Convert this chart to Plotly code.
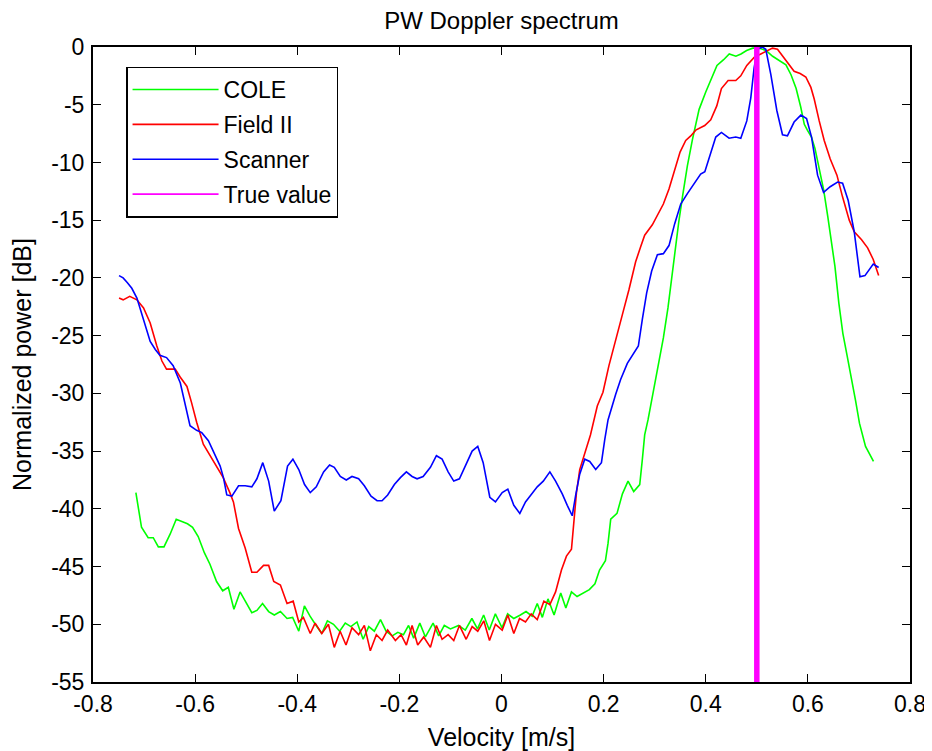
import plotly.graph_objects as go

# ---------------- data ----------------
cole_v = [-0.716, -0.705, -0.692, -0.682, -0.672, -0.661, -0.649, -0.637, -0.626, -0.615,
          -0.605, -0.594, -0.582, -0.571, -0.558, -0.546, -0.535, -0.524, -0.512, -0.501,
          -0.489, -0.479, -0.468, -0.456, -0.445, -0.433, -0.420, -0.409, -0.397, -0.386,
          -0.375, -0.363, -0.352, -0.341, -0.329, -0.317, -0.306, -0.295, -0.283, -0.271,
          -0.260, -0.249, -0.237, -0.226, -0.214, -0.203, -0.192, -0.182, -0.172, -0.160,
          -0.149, -0.134, -0.123, -0.112, -0.100, -0.084, -0.071, -0.058, -0.047, -0.035,
          -0.024, -0.012, 0.001, 0.012, 0.024, 0.037, 0.048, 0.060, 0.070, 0.080,
          0.091, 0.103, 0.116, 0.126, 0.137, 0.148, 0.160, 0.172, 0.183, 0.192,
          0.2035, 0.2086, 0.2139, 0.2262, 0.2368, 0.2478, 0.2589, 0.2707, 0.2759, 0.2804,
          0.2869, 0.297, 0.307, 0.317, 0.326, 0.333, 0.340, 0.347, 0.355, 0.364,
          0.374, 0.387, 0.400, 0.410, 0.422, 0.435, 0.446, 0.459, 0.469, 0.480,
          0.492, 0.505, 0.518, 0.531, 0.544, 0.557, 0.567, 0.577, 0.586, 0.593,
          0.599, 0.607, 0.614, 0.622, 0.631, 0.639, 0.646, 0.653, 0.6607, 0.6685,
          0.6771, 0.6849, 0.6933, 0.7011, 0.7129, 0.7285]
cole_db = [-38.6, -41.6, -42.5, -42.5, -43.3, -43.3, -42.2, -40.9, -41.1, -41.3,
           -41.6, -42.4, -43.8, -44.8, -46.3, -47.1, -46.8, -48.7, -47.2, -48.1,
           -49.0, -48.8, -48.2, -48.9, -49.2, -48.9, -49.5, -49.4, -50.6, -48.4,
           -49.3, -50.1, -50.8, -49.7, -50.0, -50.6, -49.9, -50.2, -49.8, -51.3,
           -50.2, -50.6, -49.6, -50.6, -51.0, -50.7, -50.9, -50.1, -51.2, -49.9,
           -51.1, -49.9, -51.0, -50.1, -50.4, -50.1, -50.5, -49.5, -50.4, -49.2,
           -50.5, -49.1, -50.3, -49.1, -49.5, -49.2, -48.9, -49.3, -48.2, -49.4,
           -47.8, -49.2, -47.3, -48.6, -47.2, -47.6, -47.3, -47.0, -46.5, -45.3,
           -44.5, -43.0, -40.9, -40.4, -38.7, -37.6, -38.5, -37.9, -35.7, -33.6,
           -32.3, -30.0, -27.6, -25.2, -22.6, -20.0, -17.6, -15.2, -12.8, -10.3,
           -8.0, -5.4, -3.9, -2.8, -1.6, -1.1, -0.6, -0.8, -0.6, -0.3,
           -0.1, -0.1, -0.3, -0.8, -1.15, -1.55, -2.4, -3.6, -5.2, -6.7,
           -7.2, -7.8, -8.8, -10.5, -12.4, -14.7, -17.0, -19.0, -22.2, -24.8,
           -26.8, -28.5, -30.6, -32.6, -34.6, -35.9]

field_v = [-0.749, -0.741, -0.728, -0.714, -0.701, -0.688, -0.675, -0.665, -0.656, -0.639,
           -0.629, -0.616, -0.607, -0.597, -0.584, -0.571, -0.558, -0.545, -0.532, -0.525,
           -0.515, -0.502, -0.489, -0.479, -0.466, -0.456, -0.446, -0.433, -0.420, -0.408,
           -0.397, -0.388, -0.3745, -0.365, -0.352, -0.339, -0.3275, -0.316, -0.3045, -0.2928,
           -0.2798, -0.2686, -0.2569, -0.2451, -0.2339, -0.2229, -0.2078, -0.1967, -0.1863, -0.1751,
           -0.1641, -0.1523, -0.1392, -0.1275, -0.1163, -0.1045, -0.0935, -0.0824, -0.0692, -0.0575,
           -0.0465, -0.0347, -0.0235, -0.0118, 0.0014, 0.0124, 0.0241, 0.0353, 0.047, 0.0582,
           0.070, 0.083, 0.0947, 0.1059, 0.1174, 0.1272, 0.137, 0.1415, 0.1468, 0.1532,
           0.163, 0.1742, 0.1876, 0.1987, 0.2104, 0.2235, 0.2366, 0.2497, 0.2627, 0.2725,
           0.2804, 0.2954, 0.3053, 0.317, 0.328, 0.3379, 0.3497, 0.3608, 0.3706, 0.3804,
           0.3888, 0.398, 0.4098, 0.4216, 0.4307, 0.4438, 0.4588, 0.4686, 0.4804, 0.4947,
           0.5078, 0.5209, 0.5307, 0.5405, 0.5503, 0.560, 0.573, 0.5849, 0.596, 0.6059,
           0.6124, 0.6222, 0.632, 0.6438, 0.6569, 0.668, 0.681, 0.6908, 0.7052, 0.717,
           0.728, 0.7386]
field_db = [-21.75, -21.9, -21.6, -21.9, -22.6, -23.9, -25.9, -27.2, -27.9, -27.9,
            -28.6, -29.4, -30.8, -32.5, -34.4, -35.4, -36.3, -37.3, -38.6, -39.4,
            -41.7, -43.4, -45.5, -45.5, -44.9, -44.9, -46.3, -46.6, -48.2, -48.0,
            -49.8, -49.4, -50.8, -49.9, -50.8, -50.0, -52.0, -50.6, -51.8, -50.3,
            -50.9, -50.1, -52.3, -50.9, -51.4, -50.5, -51.4, -50.9, -51.8, -50.1,
            -51.8, -51.1, -52.0, -50.1, -51.3, -50.9, -51.4, -50.1, -51.3, -50.2,
            -50.6, -49.7, -51.4, -50.0, -50.5, -49.2, -50.8, -49.5, -49.8, -49.1,
            -49.6, -48.0, -48.3, -47.2, -45.3, -44.1, -43.5, -40.9, -38.6, -36.6,
            -35.2, -33.6, -31.1, -29.9, -27.6, -25.3, -23.2, -21.0, -18.6, -17.3,
            -16.3, -15.4, -14.6, -13.6, -12.3, -10.8, -9.1, -8.1, -7.7, -7.2,
            -7.0, -6.8, -6.3, -5.1, -3.6, -2.9, -2.9, -2.5, -1.6, -0.9,
            -0.6, -0.3, -0.1, -0.2, -0.8, -1.35, -2.1, -2.3, -2.6, -3.5,
            -4.5, -6.4, -8.1, -9.7, -11.1, -13.0, -15.0, -16.0, -16.7, -17.4,
            -18.4, -19.8]

scan_v = [-0.749, -0.741, -0.733, -0.724, -0.714, -0.701, -0.688, -0.678, -0.669, -0.656,
          -0.643, -0.629, -0.620, -0.610, -0.597, -0.587, -0.574, -0.561, -0.551, -0.5445,
          -0.538, -0.528, -0.515, -0.502, -0.489, -0.479, -0.4675, -0.456, -0.445, -0.432,
          -0.419, -0.4085, -0.397, -0.3857, -0.3745, -0.3627, -0.3484, -0.3367, -0.3275, -0.3157,
          -0.304, -0.2928, -0.2798, -0.2686, -0.2555, -0.2437, -0.2339, -0.2229, -0.2098, -0.198,
          -0.1863, -0.1751, -0.1653, -0.1535, -0.1392, -0.1275, -0.1163, -0.1045, -0.0935, -0.0824,
          -0.0706, -0.0575, -0.0465, -0.0359, -0.0229, -0.0118, 0.0014, 0.0124, 0.0241, 0.0359,
          0.047, 0.0582, 0.070, 0.0818, 0.0947, 0.1059, 0.1190, 0.1288, 0.1385, 0.1454,
          0.1532, 0.163, 0.1728, 0.1845, 0.1957, 0.2022, 0.2086, 0.2235, 0.2333, 0.2464,
          0.2582, 0.268, 0.2758, 0.2843, 0.2941, 0.3053, 0.317, 0.328, 0.3392, 0.351,
          0.364, 0.377, 0.390, 0.3982, 0.4085, 0.4196, 0.4307, 0.4457, 0.4588, 0.4686,
          0.4804, 0.4882, 0.4947, 0.5013, 0.511, 0.5176, 0.5275, 0.5392, 0.5503, 0.560,
          0.573, 0.5863, 0.5974, 0.6072, 0.619, 0.6307, 0.6437, 0.6582, 0.668, 0.679,
          0.6908, 0.702, 0.7118, 0.728, 0.7386]
scan_db = [-19.8, -20.0, -20.4, -20.9, -21.75, -23.6, -25.5, -26.2, -26.7, -26.9,
           -27.6, -29.1, -30.9, -32.8, -33.2, -33.4, -34.1, -35.3, -36.3, -37.3,
           -38.8, -38.9, -38.0, -38.0, -38.1, -37.4, -36.0, -37.6, -40.2, -39.3,
           -36.3, -35.7, -36.6, -37.9, -38.6, -38.1, -36.8, -36.2, -36.4, -37.2,
           -37.5, -37.2, -37.4, -38.0, -38.9, -39.3, -39.3, -38.8, -37.9, -37.3,
           -36.8, -37.2, -37.4, -37.2, -36.4, -35.4, -35.7, -36.8, -37.6, -37.4,
           -36.3, -35.0, -34.6, -36.0, -39.0, -39.4, -38.6, -38.3, -39.7, -40.4,
           -39.4, -38.8, -38.1, -37.6, -36.8, -37.6, -38.7, -39.7, -40.6, -38.8,
           -37.0, -35.7, -35.9, -36.6, -36.0, -34.0, -32.3, -30.1, -28.8, -27.4,
           -26.6, -25.9, -23.6, -21.3, -19.4, -18.0, -17.9, -17.2, -15.3, -13.6,
           -12.7, -11.8, -11.0, -10.8, -9.4, -7.8, -7.4, -7.9, -7.8, -7.9,
           -6.4, -4.4, -1.8, -0.2, 0.0, -0.2, -2.4, -5.5, -7.6, -7.7,
           -6.5, -5.9, -6.2, -7.8, -11.1, -12.6, -12.1, -11.7, -11.8, -13.3,
           -16.0, -19.9, -19.8, -18.8, -19.1]

true_value = 0.5

x_tickvals = [-0.8, -0.6, -0.4, -0.2, 0.0, 0.2, 0.4, 0.6, 0.8]
x_ticktext = ["-0.8", "-0.6", "-0.4", "-0.2", "0", "0.2", "0.4", "0.6", "0.8"]
y_tickvals = [0, -5, -10, -15, -20, -25, -30, -35, -40, -45, -50, -55]
y_ticktext = ["0", "-5", "-10", "-15", "-20", "-25", "-30", "-35", "-40", "-45", "-50", "-55"]

FONT = "Liberation Sans, Arial, Helvetica, sans-serif"
TICK_SIZE = 23
LABEL_SIZE = 25

fig = go.Figure()
fig.add_trace(go.Scatter(x=cole_v, y=cole_db, mode="lines", name="COLE",
                         line=dict(color="#00FF00", width=1.6), legendgroup="a"))
fig.add_trace(go.Scatter(x=field_v, y=field_db, mode="lines", name="Field II",
                         line=dict(color="#FF0000", width=1.6), legendgroup="b"))
fig.add_trace(go.Scatter(x=scan_v, y=scan_db, mode="lines", name="Scanner",
                         line=dict(color="#0000FF", width=1.6), legendgroup="c"))
fig.add_trace(go.Scatter(x=[true_value, true_value], y=[0, -55], mode="lines",
                         name="True value", showlegend=False,
                         line=dict(color="#FF00FF", width=5.5), legendgroup="d"))
fig.add_trace(go.Scatter(x=[None], y=[None], mode="lines", name="True value",
                         line=dict(color="#FF00FF", width=1.8), legendgroup="d"))

axis_common = dict(showline=True, linecolor="black", linewidth=2, mirror="allticks",
                   ticks="inside", ticklen=8, tickwidth=1.3, tickcolor="black",
                   showgrid=False, zeroline=False, ticklabeloverflow="allow",
                   tickfont=dict(family=FONT, size=TICK_SIZE, color="black"))

# the page body has an 8px margin, so the figure is 8px smaller than the window
fig.update_layout(
    width=924, height=743,
    paper_bgcolor="white", plot_bgcolor="white",
    margin=dict(l=85, r=21.5, t=39.3, b=68.7, autoexpand=False),
    font=dict(family=FONT, size=TICK_SIZE, color="black"),
    title=dict(text="PW Doppler spectrum", x=0.5, xref="paper", xanchor="center",
               y=0.995, yanchor="top", yref="container",
               font=dict(family=FONT, size=24, color="black")),
    xaxis=dict(range=[-0.8, 0.8], tickvals=x_tickvals, ticktext=x_ticktext,
               title=dict(text="Velocity [m/s]", standoff=13,
                          font=dict(family=FONT, size=LABEL_SIZE, color="black")),
               automargin=False, **axis_common),
    yaxis=dict(range=[-55, 0], tickvals=y_tickvals, ticktext=y_ticktext,
               ticklabelstandoff=2,
               title=dict(text="Normalized power [dB]", standoff=22,
                          font=dict(family=FONT, size=LABEL_SIZE, color="black")),
               automargin=False, **axis_common),
    legend=dict(x=0.0407, y=0.969, xanchor="left", yanchor="top",
                bgcolor="white", bordercolor="black", borderwidth=1.3,
                font=dict(family=FONT, size=TICK_SIZE, color="black"),
                itemwidth=86, tracegroupgap=2),
    showlegend=True,
)

fig.write_html("out.html")
